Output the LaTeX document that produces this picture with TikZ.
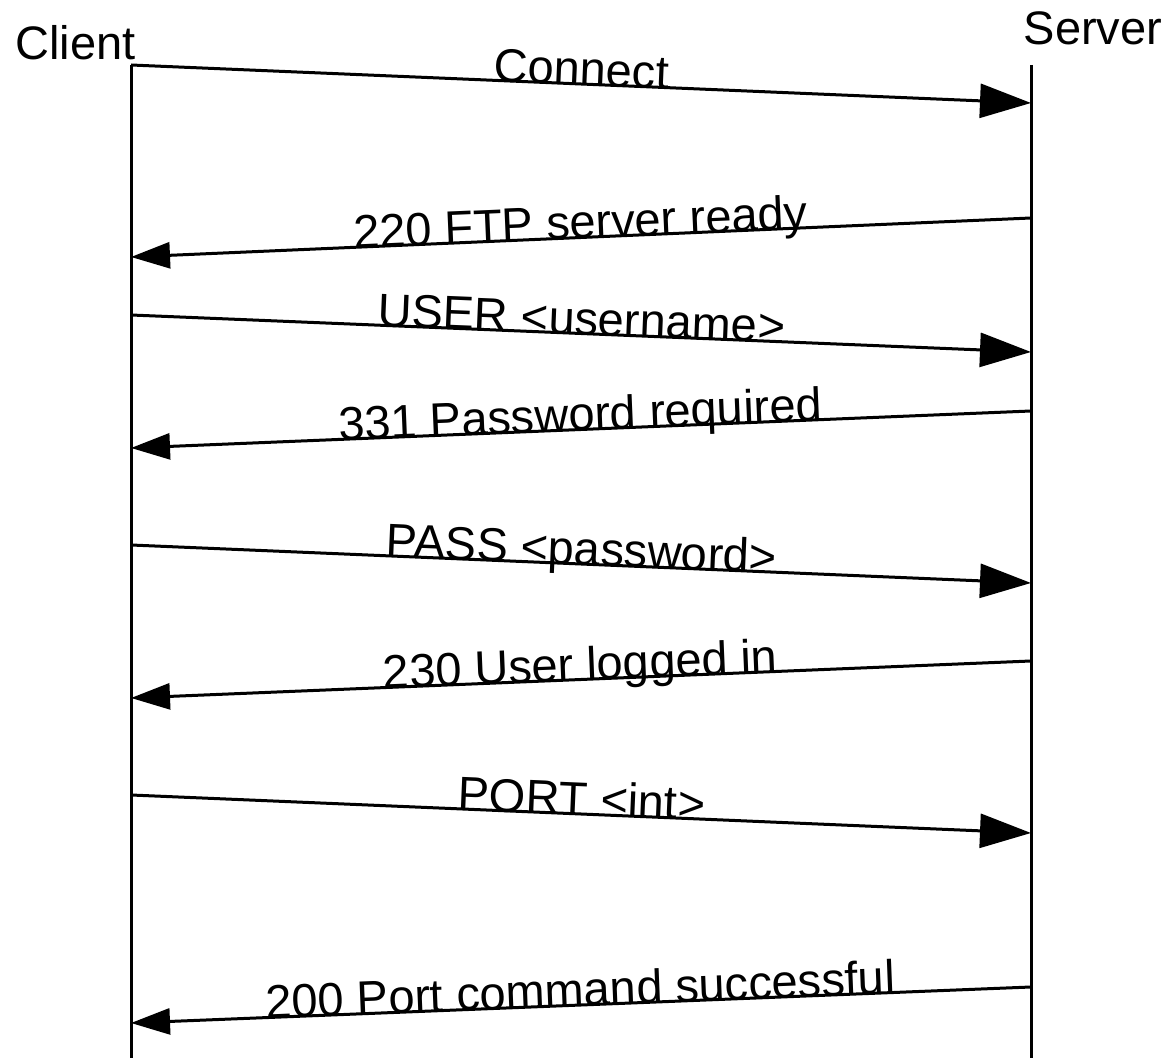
\documentclass[tikz,border=0pt]{standalone}
\usepackage{fontspec}
\setmainfont{Liberation Sans}
\usetikzlibrary{arrows.meta}

\newcommand*{\xclient}{131}
\newcommand*{\xserver}{1031}
\newcommand*{\ytop}{65}
\newcommand*{\ybot}{1058}

\begin{document}
\begin{tikzpicture}
[
	x=0.5pt, y=-0.5pt,
	lifeline/.style={line width=1.5pt},
	tosrv/.style={line width=1.5pt,-{Triangle[length=25.5pt,width=17pt]}},
	tocli/.style={line width=1.5pt,-{Triangle[length=19.5pt,width=13pt]}},
	msg/.style={sloped,anchor=base,inner sep=0pt,yshift=-0.5pt},
	every node/.style={font=\fontsize{23.5}{28}\selectfont}
]

	\useasboundingbox (0,0) rectangle (1173,1058);

	% lifelines
	\coordinate (ctop) at (\xclient,\ytop);
	\coordinate (cbot) at (\xclient,\ybot);
	\coordinate (stop) at (\xserver,\ytop);
	\coordinate (sbot) at (\xserver,\ybot);
	\draw[lifeline] (ctop) -- (cbot);
	\draw[lifeline] (stop) -- (sbot);
	\node[anchor=base] (client) at (75.5,60) {Client};
	\node[anchor=base] (server) at (1093,45) {Server};

	% connect
	\coordinate (c1) at (\xclient,65);
	\coordinate (s1) at (\xserver,103);
	\draw[tosrv] (c1) -- node[msg] (m1) {Connect} (s1);

	% ready
	\coordinate (s2) at (\xserver,218);
	\coordinate (c2) at (\xclient,257);
	\draw[tocli] (s2) -- node[msg] (m2) {220 FTP server ready} (c2);

	% user
	\coordinate (c3) at (\xclient,315);
	\coordinate (s3) at (\xserver,352);
	\draw[tosrv] (c3) -- node[msg] (m3) {USER <username>} (s3);

	% password required
	\coordinate (s4) at (\xserver,411);
	\coordinate (c4) at (\xclient,448);
	\draw[tocli] (s4) -- node[msg] (m4) {331 Password required} (c4);

	% pass
	\coordinate (c5) at (\xclient,545);
	\coordinate (s5) at (\xserver,583);
	\draw[tosrv] (c5) -- node[msg] (m5) {PASS <password>} (s5);

	% logged in
	\coordinate (s6) at (\xserver,661);
	\coordinate (c6) at (\xclient,698);
	\draw[tocli] (s6) -- node[msg] (m6) {230 User logged in} (c6);

	% port
	\coordinate (c7) at (\xclient,795);
	\coordinate (s7) at (\xserver,833);
	\draw[tosrv] (c7) -- node[msg] (m7) {PORT <int>} (s7);

	% port ok
	\coordinate (s8) at (\xserver,987);
	\coordinate (c8) at (\xclient,1023);
	\draw[tocli] (s8) -- node[msg] (m8) {200 Port command successful} (c8);

\end{tikzpicture}
\end{document}
